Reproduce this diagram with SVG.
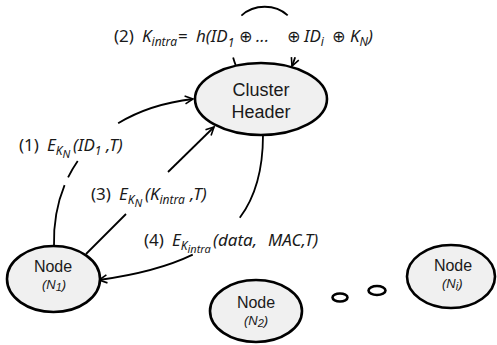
<svg xmlns="http://www.w3.org/2000/svg" width="497" height="345" viewBox="0 0 497 345">
<style>
text{font-family:"Noto Sans","DejaVu Sans",sans-serif;fill:#1a1a1a;}
.lbl{font-size:17px;}
.i{font-style:italic;}
.sub{font-size:12px;}
.ss{font-size:11px;}
.op{font-size:16px;font-style:italic;}
.node ellipse{fill:#f0f0f0;stroke:#000;stroke-width:2.6;}
.nt{font-family:"Liberation Sans",Arial,sans-serif;font-size:16px;text-anchor:middle;}
.nn{font-family:"Liberation Sans",Arial,sans-serif;font-size:13px;font-style:italic;}
.ht{font-family:"Liberation Sans",Arial,sans-serif;font-size:18px;text-anchor:middle;}
.edge{fill:none;stroke:#000;stroke-width:1.8;marker-end:url(#arr);}
.dot{fill:#fff;stroke:#000;stroke-width:2.6;}
</style>
<defs>
<marker id="arr" viewBox="0 0 10 10" refX="9" refY="5" markerWidth="10" markerHeight="10" markerUnits="userSpaceOnUse" orient="auto">
<path d="M1,1 L9,5 L1,9" fill="none" stroke="#000" stroke-width="1.6"/>
</marker>
</defs>

<g id="connectors">
<path id="e2" class="edge" d="M236,66 C205,-13 325,-13 292,66" pathLength="158.8" stroke-dasharray="9 45 50.6 45 9.2"/>
<path id="e1" class="edge" d="M54,246 C52,170 100,110 193,99" pathLength="224" stroke-dasharray="62 8.5 19 55.5 80"/>
<path id="e3a" fill="none" stroke="#000" stroke-width="1.8" d="M86,254 L126,214"/>
<path id="e3" class="edge" d="M168,172 L214,127"/>
<path id="e4" class="edge" d="M263,135 C263,210 230,262 99,280" pathLength="243.8" stroke-dasharray="87 60 100"/>
</g>

<g id="cluster" class="node">
<ellipse cx="261" cy="99" rx="66" ry="36"/>
<text class="ht" x="261" y="96">Cluster</text>
<text class="ht" x="261" y="118">Header</text>
</g>

<g id="n1" class="node">
<ellipse cx="53.5" cy="279" rx="46.5" ry="33"/>
<text class="nt" x="53" y="272">Node</text>
<text class="nn" x="42" y="289">(N<tspan font-size="11" dy="2">1</tspan><tspan dy="-2">)</tspan></text>
</g>

<g id="n2" class="node">
<ellipse cx="256" cy="311" rx="46" ry="31"/>
<text class="nt" x="256" y="308">Node</text>
<text class="nn" x="244" y="325">(N<tspan font-size="11" dy="2">2</tspan><tspan dy="-2">)</tspan></text>
</g>

<g id="ni" class="node">
<ellipse cx="451" cy="276.5" rx="44" ry="31.5"/>
<text class="nt" x="453" y="271">Node</text>
<text class="nn" x="442" y="288">(N<tspan font-size="11" dy="2">i</tspan><tspan dy="-2">)</tspan></text>
</g>

<g id="ellipsis">
<ellipse class="dot" cx="340" cy="297.5" rx="7.5" ry="4"/>
<ellipse class="dot" cx="377" cy="290.5" rx="8.5" ry="4.5"/>
</g>

<g id="labels">
<text class="lbl" y="42"><tspan x="114">(2)</tspan><tspan x="142" class="i">K</tspan><tspan class="i sub" dy="4">intra</tspan><tspan x="178" y="42">=</tspan><tspan x="196" class="i">h(ID</tspan><tspan class="i sub" dy="5">1</tspan><tspan class="op" x="239" y="42">⊕</tspan><tspan class="i" x="256">...</tspan><tspan class="op" x="287">⊕</tspan><tspan x="304" class="i">ID</tspan><tspan class="i sub" dy="4">i</tspan><tspan class="op" x="332" y="42">⊕</tspan><tspan x="350" class="i">K</tspan><tspan class="i sub" dy="4">N</tspan><tspan class="i" y="42">)</tspan></text>

<text class="lbl" y="151"><tspan x="19">(1)</tspan><tspan x="47" class="i">E</tspan><tspan class="i sub" dy="4">K</tspan><tspan class="i ss" dy="3">N</tspan><tspan x="73" y="151" class="i">(ID</tspan><tspan class="i sub" dy="4">1</tspan><tspan class="i" x="106" y="151">,T)</tspan></text>

<text class="lbl" y="200"><tspan x="91">(3)</tspan><tspan x="119" class="i">E</tspan><tspan class="i sub" dy="4">K</tspan><tspan class="i ss" dy="3">N</tspan><tspan x="145" y="200" class="i">(K</tspan><tspan class="i sub" dy="4">intra</tspan><tspan x="190" y="200" class="i">,T)</tspan></text>

<text class="lbl" y="246"><tspan x="144">(4)</tspan><tspan x="172" class="i">E</tspan><tspan class="i sub" dy="4">K</tspan><tspan class="i ss" dy="3">intra</tspan><tspan x="213" y="246" class="i">(data,</tspan><tspan x="268" class="i">MAC,T)</tspan></text>
</g>
</svg>
